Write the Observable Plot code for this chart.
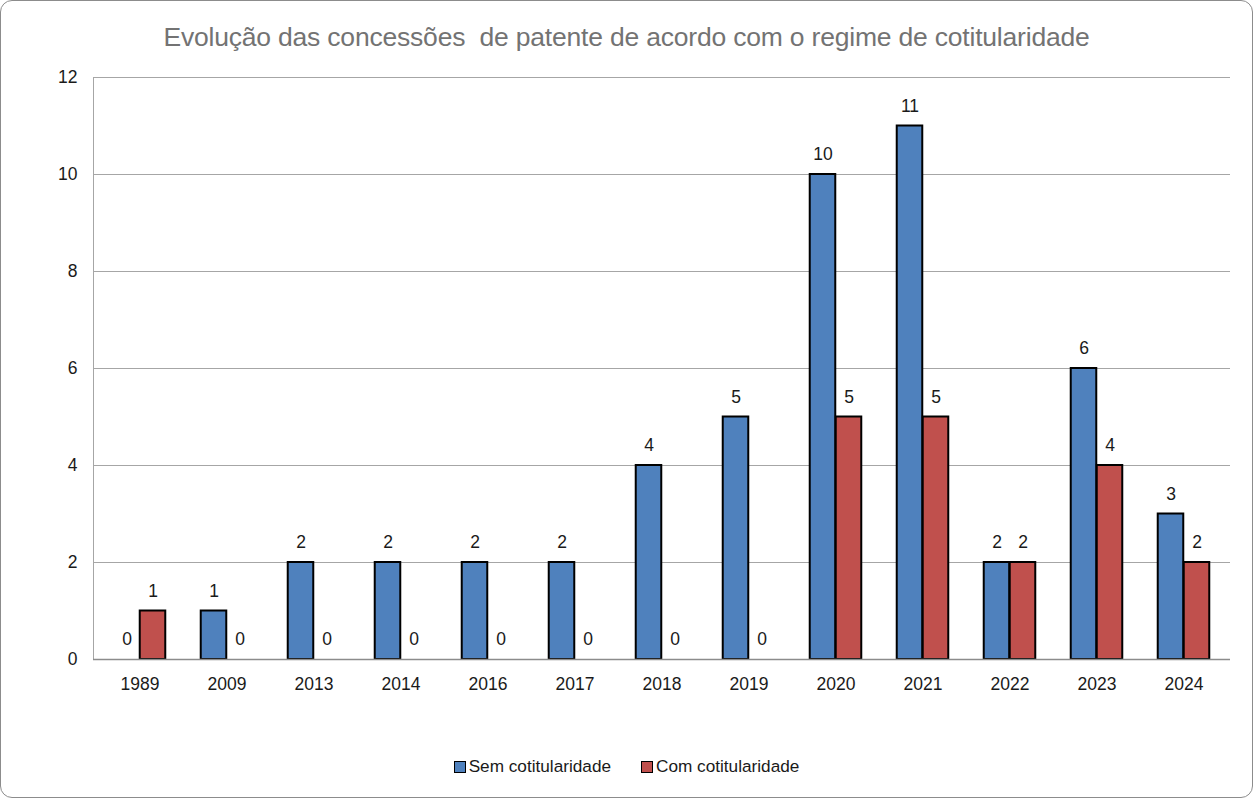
<!DOCTYPE html>
<html>
<head>
<meta charset="utf-8">
<script src="https://cdn.jsdelivr.net/npm/d3@7"></script>
<script src="https://cdn.jsdelivr.net/npm/@observablehq/plot@0.6"></script>
<style>
  html, body { margin: 0; padding: 0; background: #fff; }
  #wrap {
    position: relative; width: 1251px; height: 796px;
    border: 1px solid #8c8c8c; border-radius: 12px; overflow: hidden;
    font-family: "Liberation Sans", Arial, sans-serif; background: #fff;
  }
  #title {
    height: 60px; line-height: 72px; text-align: center;
    font-size: 26.5px; color: #737373; letter-spacing: -0.2px;
  }
  #legend {
    position: absolute; left: 0; right: 0; top: 755px;
    display: flex; justify-content: center; gap: 30px;
    font-size: 17.2px; color: #1a1a1a;
  }
  .item { display: flex; align-items: center; gap: 3px; }
  .sw { width: 10px; height: 10px; border: 1.5px solid #000; }
</style>
</head>
<body>
<div id="wrap">
  <div id="title">Evolução das concessões&nbsp; de patente de acordo com o regime de cotitularidade</div>
  <div id="chart"></div>
  <div id="legend"></div>
</div>
<script>
const years = ["1989","2009","2013","2014","2016","2017","2018","2019","2020","2021","2022","2023","2024"];
const semCotitularidade = [0,1,2,2,2,2,4,5,10,11,2,6,3];
const comCotitularidade = [1,0,0,0,0,0,0,0,5,5,2,4,2];
const seriesNames = ["Sem cotitularidade", "Com cotitularidade"];
const seriesColors = ["#4F81BD", "#C0504D"];
const yTicks = [0,2,4,6,8,10,12];

const sem = years.map((y, i) => ({year: y, value: semCotitularidade[i]}));
const com = years.map((y, i) => ({year: y, value: comCotitularidade[i]}));

const W = 1251, ML = 92, MR = 22;
const barW = 26;
const bandW = (W - ML - MR) / years.length;
const inset = (bandW - barW) / 2;

const chart = Plot.plot({
  width: W,
  height: 638,
  marginTop: 16,
  marginBottom: 40,
  marginLeft: ML,
  marginRight: MR,
  style: {fontFamily: "Liberation Sans, Arial, sans-serif", fontSize: "17.5px", color: "#1a1a1a", background: "transparent"},
  x: {domain: years, padding: 0, label: null, tickSize: 0, tickPadding: 18},
  y: {domain: [0, 12], ticks: yTicks, label: null, tickSize: 0},
  marks: [
    Plot.gridY(yTicks, {stroke: "#a6a6a6", strokeOpacity: 1, strokeWidth: 1}),
    Plot.frame({anchor: "left", stroke: "#a6a6a6"}),
    Plot.barY(sem, {x: "year", y: "value", fill: seriesColors[0], stroke: "#000", strokeWidth: 2,
      insetLeft: inset, insetRight: inset, dx: -barW / 2}),
    Plot.barY(com, {x: "year", y: "value", fill: seriesColors[1], stroke: "#000", strokeWidth: 2,
      insetLeft: inset, insetRight: inset, dx: barW / 2}),
    Plot.ruleY([0], {stroke: "#8c8c8c", strokeWidth: 1.5}),
    Plot.text(sem, {x: "year", y: "value", text: d => String(d.value), dx: -barW / 2, dy: -20, fontSize: 17.5, fill: "#1a1a1a"}),
    Plot.text(com, {x: "year", y: "value", text: d => String(d.value), dx: barW / 2, dy: -20, fontSize: 17.5, fill: "#1a1a1a"}),
    Plot.axisY(yTicks, {tickSize: 0, tickPadding: 0, dx: -16, textAnchor: "end", fontSize: 17.5, label: null})
  ]
});
document.getElementById("chart").appendChild(chart);

const legend = document.getElementById("legend");
seriesNames.forEach((n, i) => {
  const it = document.createElement("div");
  it.className = "item";
  const sw = document.createElement("div");
  sw.className = "sw";
  sw.style.background = seriesColors[i];
  const t = document.createElement("span");
  t.textContent = n;
  it.appendChild(sw); it.appendChild(t);
  legend.appendChild(it);
});
</script>
</body>
</html>
